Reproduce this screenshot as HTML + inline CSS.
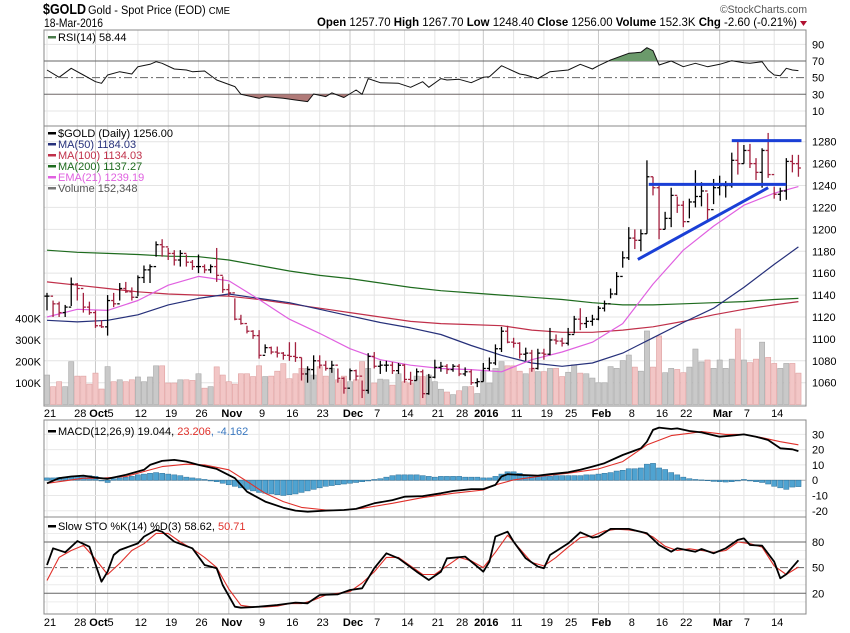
<!DOCTYPE html>
<html><head><meta charset="utf-8"><title>$GOLD chart</title>
<style>
html,body{margin:0;padding:0;background:#fff;}
svg{display:block;font-family:"Liberation Sans",Arial,sans-serif;}
</style></head>
<body>
<svg id="chart" width="850" height="633" viewBox="0 0 850 633" xmlns="http://www.w3.org/2000/svg">
<defs>
<clipPath id="cpRsi"><rect x="44" y="30" width="762" height="96"/></clipPath>
<clipPath id="cpMain"><rect x="44" y="126" width="762" height="280"/></clipPath>
<clipPath id="cpMacd"><rect x="44" y="420" width="762" height="97"/></clipPath>
<clipPath id="cpSto"><rect x="44" y="517" width="762" height="97"/></clipPath>
<clipPath id="cpAbove70"><rect x="44" y="30" width="762" height="31"/></clipPath>
<clipPath id="cpBelow30"><rect x="44" y="94.3" width="762" height="32"/></clipPath>
</defs>
<g>
<text x="43" y="14" font-size="15" font-weight="bold" fill="#000" textLength="43" lengthAdjust="spacingAndGlyphs">$GOLD</text>
<text x="88" y="14" font-size="11.5" fill="#000" textLength="142" lengthAdjust="spacingAndGlyphs">Gold - Spot Price (EOD) <tspan font-size="10">CME</tspan></text>
<text x="44" y="27" font-size="12" fill="#000" textLength="59" lengthAdjust="spacingAndGlyphs">18-Mar-2016</text>
<text x="720" y="13" font-size="11" fill="#555" textLength="87" lengthAdjust="spacingAndGlyphs">©StockCharts.com</text>
<text x="317" y="26" font-size="12" fill="#000" textLength="480" lengthAdjust="spacingAndGlyphs"><tspan font-weight="bold">Open</tspan> 1257.70 <tspan font-weight="bold">High</tspan> 1267.70 <tspan font-weight="bold">Low</tspan> 1248.40 <tspan font-weight="bold">Close</tspan> 1256.00 <tspan font-weight="bold">Volume</tspan> 152.3K <tspan font-weight="bold">Chg</tspan> -2.60 (-0.21%)</text>
<path d="M800,21 L807,21 L803.5,26 Z" fill="#b01030"/>
</g>
<g id="grid"></g>
<g id="panels"></g>
<g id="plot"></g>
<g id="axes"></g>
</svg>
<script>
// ---------- DATA ----------
const close = [1139,1132,1124,1129,1150,1146,1129,1124,1112,1111,1135,1132,1146,1143,1138,1156,1163,1166,1186,1184,1178,1172,1178,1170,1166,1166,1163,1166,1158,1145,1142,1118,1114,1107,1103,1085,1092,1088,1087,1085,1084,1083,1068,1072,1080,1076,1073,1076,1064,1055,1071,1066,1053,1084,1075,1076,1076,1071,1076,1063,1062,1070,1050,1065,1074,1075,1072,1075,1068,1070,1060,1061,1073,1078,1091,1107,1097,1096,1086,1087,1073,1087,1086,1099,1098,1096,1104,1118,1114,1116,1118,1128,1132,1141,1157,1174,1192,1190,1196,1248,1238,1200,1210,1231,1222,1207,1225,1230,1235,1218,1238,1240,1240,1263,1260,1272,1260,1252,1272,1250,1232,1235,1262,1260,1256];
const high = [1142,1135,1134,1131,1156,1151,1142,1134,1126,1117,1140,1142,1151,1152,1147,1158,1167,1168,1189,1191,1183,1181,1181,1177,1172,1177,1168,1168,1183,1157,1150,1137,1122,1112,1108,1108,1095,1093,1093,1088,1097,1097,1083,1075,1085,1085,1080,1080,1073,1065,1073,1072,1062,1087,1088,1080,1080,1079,1078,1077,1070,1073,1072,1068,1081,1079,1077,1077,1077,1074,1072,1064,1078,1083,1095,1111,1112,1101,1097,1092,1090,1091,1091,1110,1104,1101,1110,1121,1128,1120,1122,1130,1135,1146,1161,1180,1202,1200,1200,1263,1248,1240,1216,1238,1230,1226,1228,1254,1243,1233,1246,1249,1244,1270,1280,1277,1278,1265,1274,1288,1239,1238,1265,1268,1268];
const low = [1126,1120,1120,1120,1130,1135,1124,1122,1110,1110,1103,1129,1135,1142,1135,1139,1151,1151,1175,1175,1172,1167,1166,1166,1163,1160,1160,1160,1152,1142,1139,1117,1113,1105,1100,1082,1087,1086,1083,1081,1080,1079,1062,1060,1063,1073,1071,1069,1060,1050,1062,1062,1046,1050,1073,1068,1070,1068,1068,1060,1058,1062,1046,1049,1064,1070,1068,1070,1066,1066,1058,1056,1061,1071,1076,1088,1096,1092,1082,1080,1070,1072,1081,1085,1095,1093,1094,1105,1108,1110,1112,1117,1125,1137,1140,1165,1172,1182,1180,1196,1231,1191,1200,1202,1215,1202,1210,1220,1221,1208,1223,1231,1229,1238,1250,1260,1256,1245,1238,1247,1228,1226,1227,1252,1248];
const volumeK = [137,83,106,83,199,132,132,95,146,72,176,106,115,106,115,128,106,128,180,180,100,100,115,115,112,143,76,83,175,137,106,95,143,143,130,180,130,132,155,190,120,143,168,168,137,176,132,168,115,132,106,115,199,168,100,118,115,90,143,106,100,132,130,137,106,71,58,46,64,83,83,51,153,100,168,199,180,180,155,143,168,153,153,168,168,130,150,185,146,143,123,101,101,176,168,204,230,174,155,342,174,319,148,168,163,148,174,258,198,207,168,207,168,211,351,207,195,211,290,219,191,168,191,191,146];
const maIdx = [0,5,10,15,20,25,30,35,40,45,50,55,60,65,70,75,80,85,90,95,100,105,110,115,120,124];
const ma50 = [1117,1115.5,1117,1122,1131,1137,1141,1137,1133,1127,1121,1115,1110,1104,1094,1085,1078,1075,1078,1087,1101,1115,1128,1147,1168,1184];
const ma100 = [1152,1149,1146,1143,1141,1140,1139,1136,1132,1128,1124,1120,1116,1114,1113,1112,1108,1106,1106,1108,1111,1116,1122,1127,1131,1134];
const ma200 = [1181,1179,1178,1177,1175.5,1175,1172,1167,1162,1158,1155,1151,1147,1144,1142,1140,1138,1136,1133,1131,1131,1132,1133,1134,1136,1137];
const ema21 = [1120,1127,1126,1135,1149,1157,1153,1136,1118,1105,1091,1081,1076,1073,1072,1070,1081,1088,1097,1114,1150,1181,1203,1222,1233,1239];
const rsiIdx = [0,2,4,6,8,9,10,12,14,15,17,18,19,21,23,24,26,28,31,32,35,36,39,41,43,44,46,47,49,51,52,53,55,58,60,62,63,65,66,68,70,72,73,75,78,79,81,83,86,88,90,91,93,96,98,99,100,101,103,105,107,109,111,113,115,116,118,119,120,121,122,123,124];
const rsiVal = [59.2,50.4,61.2,53.2,45.1,43.2,53.2,57.2,54.4,63.2,66,69.2,67.2,60.4,59.2,57.2,58,47.2,39.2,30,25.2,27.2,25.2,23.2,21.2,30.4,27.2,31.7,26.2,35.2,30,48.8,43.9,43.2,38.4,45.1,38.4,48.8,47.2,48,43.9,50.4,51.2,64.4,54.4,53.2,48.8,57.2,59.2,66,60.4,64.4,71.2,79.2,80.4,86,82.4,65.2,70,63.2,67.2,63.2,66,70.4,68,67.2,69.2,59.2,53.2,52.4,61.2,59.2,58.44];
const macdIdx = [0,2,4,6,8,10,13,16,17,19,21,23,25,28,31,33,36,39,41,43,46,49,51,54,57,59,62,65,67,70,72,74,75,76,78,81,83,86,88,90,92,95,98,99,100,101,103,104,106,108,111,113,115,117,119,121,123,124];
const macdVal = [-2.0,1.3,2.4,3.0,1.7,0.9,3.5,6.8,10,12.6,13.3,12.2,10,7.4,1.3,-7.5,-14,-18,-19.9,-20.6,-19.9,-19.5,-18.8,-15.1,-13,-10.8,-10.4,-8.6,-7.1,-5.8,-5.8,-3.1,2.4,3.9,3.5,3.0,3.9,5.2,6.8,8.9,11.1,16.5,20.9,25.2,32.9,34.4,33.5,33.9,32.2,31.3,28.5,29.2,30,28.5,26.3,20.9,20.2,19.04];
const sigIdx = [0,3,6,9,13,16,19,23,26,30,33,36,39,42,46,49,52,57,62,67,72,74,77,81,86,91,95,99,103,106,108,112,115,118,121,124];
const sigVal = [-2.0,-0.4,1.3,1.3,2.4,5.7,8.9,10.5,10,6.8,-0.8,-8.6,-14,-17.8,-19.5,-19.5,-18.4,-15.1,-11.4,-8.6,-6.4,-3.1,0.2,2.4,4.6,7.4,12.2,23.1,29.2,30.7,31.8,30,30,27.8,25.2,23.2];
const histVal = [1.5,1.5,1.8,2,2.5,2.5,3,3,2.5,-0.5,-1.5,1,1.5,2,2.5,3.5,4,4.5,5,4.5,4,3.5,3,2,1.5,1,0.5,-0.5,-1,-2,-3,-4,-5,-6,-7,-8,-8.5,-9,-9.5,-10,-9.5,-9,-8,-7,-6,-5,-4,-3.5,-3,-2.5,-2,-1.5,-1,-0.5,0.5,1,2,3,3.5,3.5,3.5,3.5,3,2.5,2,2.5,2.5,2.5,2.5,2,2,2,1.5,1.5,2.5,4,5.5,5.5,4.5,3,3,2.5,2.5,2.5,3,3,3,3,3,3.5,3.5,4,4.5,5,6,6.5,7.5,7.5,8,10.5,11,8,7,5,3.5,2,1,0.5,0.2,-0.3,-0.8,-1,-1.2,-1,-0.5,0.5,-0.5,-1,-1.5,-2.5,-4,-5,-6,-4.5,-4.2];
const stoKIdx = [0,1,3,5,7,9,10,11,12,15,16,18,19,21,24,26,28,29,31,32,35,38,41,43,45,48,50,52,54,56,58,61,63,65,66,69,71,72,73,74,76,77,79,81,82,83,86,88,90,91,93,96,99,101,103,104,107,108,110,112,114,115,116,118,120,121,122,124];
const stoKVal = [53.1,72.6,67.9,81.1,74.5,33.6,45.3,64.8,70.7,78.4,86.3,94.1,92.1,80.4,72.6,53.1,49.2,29.7,4.3,3.2,4.3,6.3,9.1,8.3,18,18.8,23.9,25.8,49.2,66.8,60.9,45.3,35.5,45.3,60.9,62.9,51.2,45.3,57,86.3,92.1,80.4,60.9,51.2,49.2,64.8,78.4,91.3,85.1,86.3,95.3,95.3,90.2,76.5,68.7,72.6,68.7,71.8,66.8,72.6,82.4,84.2,76.5,75.7,57,37.5,42.2,58.62];
const stoDIdx = [0,2,4,6,8,10,12,14,16,18,20,22,24,26,28,30,32,34,36,38,40,42,44,46,48,50,52,54,56,58,60,62,64,66,68,70,72,74,76,78,80,82,84,86,88,90,92,94,96,98,100,102,104,106,108,110,112,114,116,118,120,122,124];
const stoDVal = [35,62,70,76,60,42,55,70,78,90,90,80,72,62,50,25,6,4,4,5,8,8,12,18,20,22,32,45,62,62,52,42,42,52,62,58,50,68,88,72,56,52,62,74,85,87,93,95,94,92,86,75,70,72,70,68,70,80,78,74,52,42,50.71];
const tickIdx = [0,5,8,10,15,20,25,30,35,40,45,50,54,59,64,68,72,77,82,86,91,96,101,105,111,115,120];
const tickLbl = ["21","28","Oct","5","12","19","26","Nov","9","16","23","Dec","7","14","21","28","2016","11","19","25","Feb","8","16","22","Mar","7","14"];
const tickMajor = [false,false,true,false,false,false,false,true,false,false,false,true,false,false,false,false,true,false,false,false,true,false,false,false,true,false,false];
const priceTicks = [1060,1080,1100,1120,1140,1160,1180,1200,1220,1240,1260,1280];
const volTicks = [100,200,300,400];
const volTickLbl = ["100K","200K","300K","400K"];
const rsiTicks = [10,30,50,70,90];
const macdTicks = [-20,-10,0,10,20,30];
const stoTicks = [20,50,80];
const trendFrom = [[99.3,1241],[113,1281],[97.5,1172.5]];
const trendTo = [[122,1241],[124.5,1281],[119,1238]];

const L = 44, R = 806;
function xOf(i){ return 47 + i*6.06; }
function yP(p){ return 141.7 + (1280-p)*1.0955; }
function yV(v){ return 404.5 - v*0.215; }
function yR(r){ return 61 + (70-r)*0.8325; }
function yM(m){ return 480.2 - m*1.528; }
function yS(s){ return 610.4 - s*0.855; }

const NS = "http://www.w3.org/2000/svg";
function mk(tag, parent, attrs){
  const e = document.createElementNS(NS, tag);
  for (const k in attrs) e.setAttribute(k, attrs[k]);
  parent.appendChild(e);
  return e;
}
const gGrid = document.getElementById('grid');
const gPan = document.getElementById('panels');
const gPlot = document.getElementById('plot');
const gAx = document.getElementById('axes');

const panels = [[30,126],[126,406],[420,517],[517,614]];
panels.forEach(function(p){
  tickIdx.forEach(function(t, k){
    const ln = mk('line', gGrid, {x1:xOf(t), x2:xOf(t), y1:p[0], y2:p[1], stroke: tickMajor[k] ? '#c8c8c8' : '#e4e4e4', 'stroke-width':1});
    
    
  });
});
for (let p = 1040; p <= 1280; p += 20) {
  const ln = mk('line', gGrid, {x1:L, x2:R, y1:yP(p), y2:yP(p), stroke:'#e4e4e4'});
  
  
}
[10,90].forEach(function(v){
  const ln = mk('line', gGrid, {x1:L, x2:R, y1:yR(v), y2:yR(v), stroke:'#e4e4e4'});
  
  
});
[-20,-10,10,20,30].forEach(function(v){
  const ln = mk('line', gGrid, {x1:L, x2:R, y1:yM(v), y2:yM(v), stroke:'#e8e8e8'});
  
  
});
[10,30,40,60,70,90].forEach(function(v){
  const ln = mk('line', gGrid, {x1:L, x2:R, y1:yS(v), y2:yS(v), stroke:'#ececec'});
  
  
});
panels.forEach(function(p){
  const r = mk('rect', gPan, {x:L, y:p[0], width:R-L, height:p[1]-p[0], fill:'none', stroke:'#888', 'stroke-width':1});
  
  
});

function poly(parent, idx, vals, yf, color, w, name, clip){
  const pts = idx.map(function(t,k){ return xOf(t).toFixed(1)+','+yf(vals[k]).toFixed(1); }).join(' ');
  const pl = mk('polyline', parent, {points:pts, fill:'none', stroke:color, 'stroke-width':w, 'stroke-linejoin':'round', 'clip-path':'url(#'+clip+')'});
  
  
  return pl;
}

const gRsi = mk('g', gPlot, {});


[[70,'solid'],[30,'solid'],[50,'dash']].forEach(function(a){
  const ln = mk('line', gRsi, {x1:L, x2:R, y1:yR(a[0]), y2:yR(a[0]), stroke:'#666', 'stroke-width':1});
  if (a[1]==='dash') ln.setAttribute('stroke-dasharray','8,3,2,3');
  
  
});
(function(){
  const pts = rsiIdx.map(function(t,k){ return xOf(t).toFixed(1)+','+yR(rsiVal[k]).toFixed(1); });
  const first = xOf(rsiIdx[0]).toFixed(1), last = xOf(rsiIdx[rsiIdx.length-1]).toFixed(1);
  const up = mk('polygon', gRsi, {points: first+','+yR(70)+' '+pts.join(' ')+' '+last+','+yR(70), fill:'#6b9a6b', 'clip-path':'url(#cpAbove70)'});
  
  
  const dn = mk('polygon', gRsi, {points: first+','+yR(30)+' '+pts.join(' ')+' '+last+','+yR(30), fill:'#b07a78', 'clip-path':'url(#cpBelow30)'});
  
  
})();
poly(gRsi, rsiIdx, rsiVal, yR, '#111', 1, 'rsi-line', 'cpRsi');

const gVol = mk('g', gPlot, {'clip-path':'url(#cpMain)'});


volumeK.forEach(function(v,i){
  const down = i>0 && close[i] < close[i-1];
  const r = mk('rect', gVol, {x:xOf(i)-2.6, y:yV(v), width:5.2, height:yV(0)-yV(v), fill: down ? '#f2c6c6' : '#c9c9c9', stroke: down ? '#dfa0a0' : '#a8a8a8', 'stroke-width':0.6});
  
  
});
const gMa = mk('g', gPlot, {});


poly(gMa, maIdx, ma200, yP, '#1e6b1e', 1.2, 'ma200-line', 'cpMain');
poly(gMa, maIdx, ma100, yP, '#c0304a', 1.2, 'ma100-line', 'cpMain');
poly(gMa, maIdx, ma50, yP, '#26307a', 1.2, 'ma50-line', 'cpMain');
poly(gMa, maIdx, ema21, yP, '#e060e0', 1.2, 'ema21-line', 'cpMain');
const gBars = mk('g', gPlot, {'clip-path':'url(#cpMain)'});


close.forEach(function(c,i){
  const open = i>0 ? close[i-1] : c;
  const down = i>0 && c < close[i-1];
  const col = down ? '#a3213f' : '#000';
  const x = xOf(i);
  const g = mk('g', gBars, {stroke:col, 'stroke-width':1.3});
  
  
  mk('line', g, {x1:x, x2:x, y1:yP(high[i]), y2:yP(low[i])});
  mk('line', g, {x1:x-2.5, x2:x, y1:yP(open), y2:yP(open)});
  mk('line', g, {x1:x, x2:x+2.5, y1:yP(c), y2:yP(c)});
});
trendFrom.forEach(function(a,k){
  const b = trendTo[k];
  const ln = mk('line', gPlot, {x1:xOf(a[0]), y1:yP(a[1]), x2:xOf(b[0]), y2:yP(b[1]), stroke:'#1a3fd6', 'stroke-width':3, 'clip-path':'url(#cpMain)'});
  
  
});

const gMacd = mk('g', gPlot, {});


const zl = mk('line', gMacd, {x1:L, x2:R, y1:yM(0), y2:yM(0), stroke:'#aaa'});


histVal.forEach(function(v,i){
  const y0 = yM(0), y1 = yM(v);
  const r = mk('rect', gMacd, {x:xOf(i)-2.6, y:Math.min(y0,y1), width:5.2, height:Math.max(0.5,Math.abs(y1-y0)), fill:'#4fa3d1', stroke:'#2c6f98', 'stroke-width':0.5});
  
  
});
poly(gMacd, sigIdx, sigVal, yM, '#e0302a', 1.1, 'macd-signal-line', 'cpMacd');
poly(gMacd, macdIdx, macdVal, yM, '#000', 1.8, 'macd-line', 'cpMacd');

const gSto = mk('g', gPlot, {});


[[80,0],[20,0],[50,1]].forEach(function(a){
  const ln = mk('line', gSto, {x1:L, x2:R, y1:yS(a[0]), y2:yS(a[0]), stroke:'#666'});
  if (a[1]) ln.setAttribute('stroke-dasharray','8,3,2,3');
  
  
});
poly(gSto, stoDIdx, stoDVal, yS, '#e0302a', 1.1, 'sto-d-line', 'cpSto');
poly(gSto, stoKIdx, stoKVal, yS, '#000', 1.8, 'sto-k-line', 'cpSto');

function txt(parent, x, y, s, attrs){
  const t = mk('text', parent, Object.assign({x:x, y:y, 'font-size':11, fill:'#000'}, attrs||{}));
  t.textContent = s;
  return t;
}
priceTicks.forEach(function(p){
  const t = txt(gAx, 812, yP(p)+4, String(p));
  
  
});
volTicks.forEach(function(v,k){
  const t = txt(gAx, 41, yV(v)+4, volTickLbl[k], {'text-anchor':'end'});
  
  
});
rsiTicks.forEach(function(v){
  const t = txt(gAx, 812, yR(v)+4, String(v));
  
  
});
macdTicks.forEach(function(v){
  const t = txt(gAx, 812, yM(v)+4, String(v));
  
  
});
stoTicks.forEach(function(v){
  const t = txt(gAx, 812, yS(v)+4, String(v));
  
  
});
[417, 626].forEach(function(y){
  tickIdx.forEach(function(t,k){
    const lab = txt(gAx, xOf(t)+3, y, tickLbl[k], {'text-anchor':'middle', 'font-weight': tickMajor[k] ? 'bold' : 'normal', 'font-size':11});
    
    
  });
});

(function(){
  const svg = document.getElementById('chart');
  const g = document.createElementNS(NS,'g');
  
  
  svg.appendChild(g);
  function leg(x, y, parts, name, swatch){
    if (swatch) {
      const r = document.createElementNS(NS,'rect');
      r.setAttribute('x', x); r.setAttribute('y', y-5); r.setAttribute('width', 8); r.setAttribute('height', 2.5); r.setAttribute('fill', swatch);
      
      
      g.appendChild(r);
      x += 10;
    }
    const t = document.createElementNS(NS,'text');
    t.setAttribute('x', x); t.setAttribute('y', y); t.setAttribute('font-size', 11);
    
    
    parts.forEach(function(p){
      const s = document.createElementNS(NS,'tspan');
      s.setAttribute('fill', p[1]); s.textContent = p[0]; t.appendChild(s);
    });
    g.appendChild(t);
  }
  leg(48, 41, [['RSI(14) 58.44','#000']], 'rsi-legend', '#4a7a4a');
  leg(48, 137, [['$GOLD (Daily) 1256.00','#000']], 'price-legend', '#000');
  leg(48, 148, [['MA(50) 1184.03','#26307a']], 'ma50-legend', '#26307a');
  leg(48, 159, [['MA(100) 1134.03','#c0304a']], 'ma100-legend', '#c0304a');
  leg(48, 170, [['MA(200) 1137.27','#1e6b1e']], 'ma200-legend', '#1e6b1e');
  leg(48, 181, [['EMA(21) 1239.19','#e060e0']], 'ema21-legend', '#e060e0');
  leg(48, 192, [['Volume 152,348','#555']], 'volume-legend', '#777');
  leg(48, 435, [['MACD(12,26,9) 19.044, ','#000'],['23.206','#e0302a'],[', -4.162','#3a78c0']], 'macd-legend', '#000');
  leg(48, 530, [['Slow STO %K(14) %D(3) 58.62, ','#000'],['50.71','#e0302a']], 'sto-legend', '#000');
})();
</script>
</body></html>
